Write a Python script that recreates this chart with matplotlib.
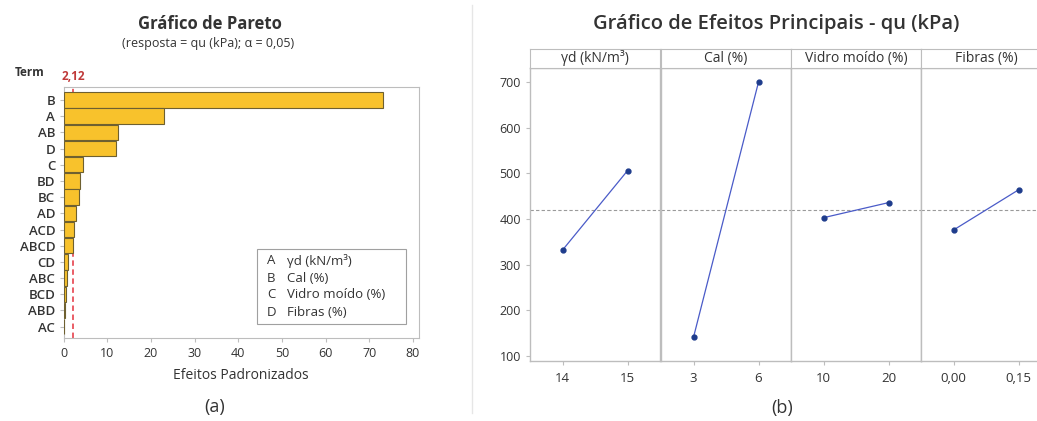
import matplotlib
matplotlib.use('Agg')
from matplotlib import pyplot as plt
from matplotlib.patches import Rectangle
from matplotlib.lines import Line2D

plt.rcParams['font.family'] = ['Open Sans', 'DejaVu Sans']

# --- data (a) Pareto of standardized effects
terms = ['B', 'A', 'AB', 'D', 'C', 'BD', 'BC', 'AD', 'ACD', 'ABCD',
         'CD', 'ABC', 'BCD', 'ABD', 'AC']
effects = [73.1, 23.0, 12.5, 12.0, 4.5, 3.8, 3.5, 2.9, 2.4, 2.2,
           1.1, 0.9, 0.6, 0.35, 0.2]
t_crit = 2.12
factor_letters = ['A', 'B', 'C', 'D']
factor_names = ['γd (kN/m³)', 'Cal (%)', 'Vidro moído (%)', 'Fibras (%)']

# --- data (b) main effects
level_labels = [['14', '15'], ['3', '6'], ['10', '20'], ['0,00', '0,15']]
mean_qu = [[332, 506], [141, 700], [403, 436], [376, 464]]
grand_mean = 420

W, H = 1037, 421
fig = plt.figure(figsize=(W / 100, H / 100), dpi=100)


def box(x0, y0, x1, y1):
    # pixel box (top-left origin) -> figure fractions
    return [x0 / W, 1 - y1 / H, (x1 - x0) / W, (y1 - y0) / H]


def fpt(x, y):
    return x / W, 1 - y / H


txt = '#333333'
grid_c = '#BDBDBD'

# ================= (a) Pareto =================
ax = fig.add_axes(box(63.5, 87, 419, 338))
pos = list(range(len(terms)))
ax.barh(pos, effects, height=0.95, color='#F8C22C', edgecolor='#6E6030',
        linewidth=0.8, zorder=3)
ax.axvline(t_crit, color='#E8505A', ls=(0, (3, 2)), lw=1.3, zorder=2)
ax.set_xlim(0, 81.4)
ax.set_ylim(len(terms) - 0.3, -0.8)
ax.set_yticks(pos)
ax.set_yticklabels(terms, fontsize=9.5, color=txt, fontweight='semibold')
ax.set_xticks(range(0, 81, 10))
ax.tick_params(axis='x', labelsize=9, colors=txt, length=3, color=grid_c)
ax.tick_params(axis='y', length=3, color=grid_c, pad=3)
for s in ax.spines.values():
    s.set_color(grid_c)
ax.set_xlabel('Efeitos Padronizados', fontsize=10, color=txt, labelpad=6)

fig.text(*fpt(210, 24), 'Gráfico de Pareto', ha='center', va='center',
         fontsize=12, fontweight='bold', color=txt)
fig.text(*fpt(208, 44), '(resposta = qu (kPa); α = 0,05)', ha='center',
         va='center', fontsize=9, color=txt)
fig.text(*fpt(30, 73), 'Term', ha='center', va='center', fontsize=8.5,
         fontweight='bold', color=txt)
fig.text(*fpt(73, 76), '2,12', ha='center', va='center', fontsize=8.5,
         fontweight='bold', color='#C03A3A')

# legend box
fig.patches.append(Rectangle(fpt(257, 324), 149 / W, 75 / H,
                             transform=fig.transFigure, fill=True,
                             facecolor='white', edgecolor='#A0A0A0', lw=0.8))
for i, (l, n) in enumerate(zip(factor_letters, factor_names)):
    y = 261 + i * 17
    fig.text(*fpt(267, y), l, ha='left', va='center', fontsize=9.5, color=txt)
    fig.text(*fpt(287, y), n, ha='left', va='center', fontsize=9.5, color=txt)

fig.text(*fpt(215, 407), '(a)', ha='center', va='center', fontsize=13,
         color=txt)

# ================= (b) Main effects =================
fig.add_artist(Line2D([472 / W, 472 / W], [1 - 5 / H, 1 - 413 / H],
                      color='#E6E6E6', lw=1, transform=fig.transFigure))

lefts = [530, 661, 791, 921]
pw = 130
for k in range(4):
    x0 = lefts[k]
    a = fig.add_axes(box(x0, 68, x0 + pw, 361))
    a.plot([0, 1], mean_qu[k], color='#4A5BC8', lw=0.9, marker='o', ms=3.5,
           mfc='#1E3C8C', mec='#1E3C8C')
    a.axhline(grand_mean, color='#9A9A9A', ls=(0, (3, 2)), lw=0.8, zorder=0)
    a.set_xlim(-0.5, 1.5)
    a.set_ylim(89, 731)
    a.set_xticks([0, 1])
    a.set_xticklabels(level_labels[k], fontsize=9.5, color=txt)
    a.tick_params(axis='x', length=3, color=grid_c, pad=5)
    if k == 0:
        a.set_yticks(range(100, 701, 100))
        a.tick_params(axis='y', labelsize=9, colors=txt, length=3,
                      color=grid_c)
    else:
        a.set_yticks([])
    for s in a.spines.values():
        s.set_color(grid_c)
        s.set_linewidth(1.0)
    # header strip
    h = fig.add_axes(box(x0, 49, x0 + pw, 68))
    h.set_xticks([])
    h.set_yticks([])
    for s in h.spines.values():
        s.set_color(grid_c)
    h.text(0.5, 0.5, factor_names[k], ha='center', va='center', fontsize=10,
           color=txt, transform=h.transAxes)

fig.text(*fpt(776, 24), 'Gráfico de Efeitos Principais - qu (kPa)',
         ha='center', va='center', fontsize=14.5, fontweight='semibold',
         color=txt)
fig.text(*fpt(782, 408), '(b)', ha='center', va='center', fontsize=13,
         color=txt)

fig.savefig('out.png', dpi=100)
